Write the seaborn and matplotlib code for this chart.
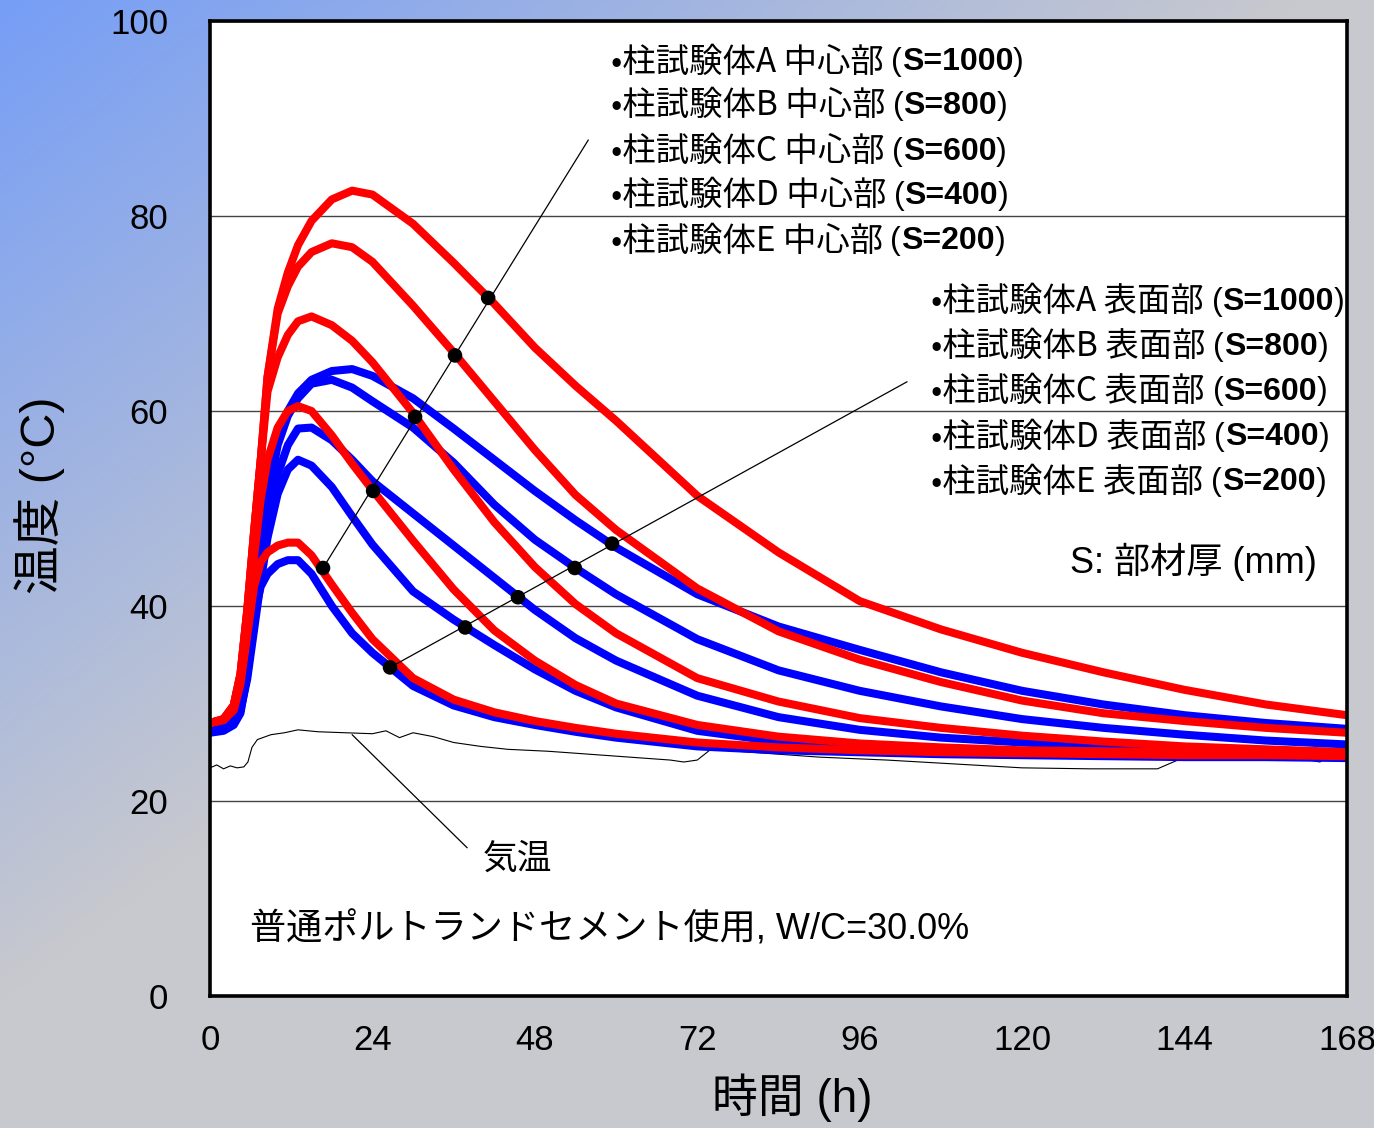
import numpy as np
import pandas as pd
import seaborn as sns
import matplotlib.pyplot as plt
from matplotlib import font_manager
from matplotlib.offsetbox import TextArea, HPacker, AnnotationBbox

# ========= データ =========
hours = [0, 2, 3.5, 4.5, 5.5, 6.5, 7.5, 8.5, 10, 11.5, 13, 15, 18, 21, 24, 30, 36, 42, 48,
         54, 60, 72, 84, 96, 108, 120, 132, 144, 156, 168]

# 中心部 (赤)
center_A = [28.0, 28.4, 29.8, 33.0, 39.5, 47.5, 55.0, 63.5, 70.5, 74.2, 77.0, 79.5, 81.7, 82.6, 82.2,
            79.2, 75.2, 71.0, 66.5, 62.6, 59.0, 51.3, 45.5, 40.5, 37.6, 35.2, 33.2, 31.4, 29.9, 28.8]
center_B = [28.0, 28.4, 29.8, 33.0, 39.5, 47.5, 55.0, 63.5, 70.0, 72.8, 74.8, 76.3, 77.2, 76.8, 75.3,
            70.8, 66.0, 61.0, 56.0, 51.4, 47.8, 41.8, 37.4, 34.5, 32.2, 30.3, 29.0, 28.2, 27.5, 27.0]
center_C = [28.0, 28.4, 29.8, 33.0, 39.5, 47.5, 55.0, 62.0, 65.5, 67.8, 69.2, 69.7, 68.8, 67.2, 65.0,
            59.8, 54.0, 48.6, 44.0, 40.2, 37.2, 32.6, 30.2, 28.5, 27.5, 26.7, 26.1, 25.6, 25.3, 25.0]
center_D = [28.0, 28.3, 29.5, 32.5, 38.0, 45.0, 51.0, 55.0, 58.3, 60.0, 60.5, 60.0, 57.5, 54.6, 51.9,
            46.7, 41.7, 37.5, 34.4, 31.9, 30.0, 27.8, 26.6, 25.9, 25.5, 25.2, 25.1, 25.0, 24.9, 24.8]
center_E = [28.0, 28.3, 29.3, 32.0, 37.0, 42.0, 44.5, 45.5, 46.2, 46.5, 46.5, 45.2, 42.2, 39.3, 36.6,
            32.6, 30.4, 29.1, 28.2, 27.5, 26.9, 26.0, 25.5, 25.2, 25.0, 24.9, 24.8, 24.7, 24.7, 24.6]

# 表面部 (青)
surface_A = [27.3, 27.5, 28.2, 30.0, 34.0, 40.0, 46.0, 51.0, 57.0, 60.0, 61.8, 63.2, 64.1, 64.3, 63.6,
             61.3, 58.2, 55.0, 51.8, 48.8, 46.0, 41.2, 37.9, 35.5, 33.2, 31.3, 29.9, 28.8, 28.0, 27.4]
surface_B = [27.3, 27.5, 28.2, 30.0, 34.0, 40.0, 46.0, 51.0, 56.5, 59.5, 61.3, 62.8, 63.2, 62.4, 61.0,
             58.3, 54.7, 50.4, 46.8, 43.9, 41.2, 36.6, 33.4, 31.3, 29.7, 28.4, 27.5, 26.8, 26.2, 25.8]
surface_C = [27.3, 27.5, 28.0, 29.5, 33.0, 38.5, 44.0, 48.5, 53.5, 56.5, 58.2, 58.3, 57.0, 55.0, 52.8,
             49.5, 46.2, 42.9, 39.6, 36.7, 34.4, 30.8, 28.6, 27.3, 26.5, 26.0, 25.6, 25.4, 25.2, 25.0]
surface_D = [27.3, 27.5, 28.0, 29.3, 32.5, 37.5, 42.5, 47.0, 51.5, 54.0, 55.0, 54.4, 52.2, 49.2, 46.3,
             41.5, 38.6, 36.0, 33.5, 31.3, 29.6, 27.2, 26.1, 25.5, 25.2, 25.0, 24.9, 24.8, 24.7, 24.6]
surface_E = [27.0, 27.2, 27.8, 29.0, 33.0, 39.0, 42.0, 43.3, 44.3, 44.7, 44.7, 43.3, 40.0, 37.2, 35.2,
             31.8, 29.8, 28.6, 27.8, 27.1, 26.5, 25.6, 25.2, 25.0, 24.8, 24.7, 24.6, 24.5, 24.5, 24.4]

# 気温
air_hours = [0, 1, 2, 3, 4, 5, 5.6, 6.2, 7, 9, 11, 13, 16, 20, 24, 26, 28, 30, 33, 36, 40, 44,
             50, 56, 62, 68, 70, 72, 74, 80, 90, 100, 110, 120, 130, 140, 143, 145, 150, 155,
             160, 164, 166, 168]
air_temp = [23.4, 23.7, 23.3, 23.6, 23.4, 23.5, 24.0, 25.5, 26.3, 26.8, 27.0, 27.3, 27.1, 27.0,
            26.9, 27.2, 26.5, 27.0, 26.6, 26.0, 25.6, 25.3, 25.1, 24.8, 24.5, 24.2, 24.0, 24.2,
            25.3, 25.0, 24.5, 24.2, 23.8, 23.4, 23.3, 23.3, 24.2, 25.6, 25.4, 25.0, 24.5, 24.0,
            25.0, 25.2]

# 指示線上の点
center_dot_t = [16.7, 24.1, 30.3, 36.2, 41.1]
center_dot_T = [43.9, 51.8, 59.4, 65.7, 71.6]
surface_dot_t = [26.6, 37.7, 45.5, 53.9, 59.4]
surface_dot_T = [33.7, 37.8, 40.9, 43.9, 46.4]
center_leader_end = (55.9, 87.8)
surface_leader_end = (103.0, 63.0)

specimens = ["A", "B", "C", "D", "E"]
thickness = [1000, 800, 600, 400, 200]
center_series = [center_A, center_B, center_C, center_D, center_E]
surface_series = [surface_A, surface_B, surface_C, surface_D, surface_E]
# ==========================

names = [f.name for f in font_manager.fontManager.ttflist]
narrow = "Liberation Sans Narrow" if "Liberation Sans Narrow" in names else "Liberation Sans"
jp = "Noto Sans CJK JP"

sns.set_style("white")
plt.rcParams["font.family"] = [jp, "DejaVu Sans"]
plt.rcParams["text.color"] = "black"
plt.rcParams["xtick.color"] = "black"
plt.rcParams["ytick.color"] = "black"

rows = []
for sp, vals in zip(specimens, surface_series):
    for t, v in zip(hours, vals):
        rows.append({"time": t, "temp": v, "series": f"表面部{sp}"})
for sp, vals in zip(specimens, center_series):
    for t, v in zip(hours, vals):
        rows.append({"time": t, "temp": v, "series": f"中心部{sp}"})
df = pd.DataFrame(rows)
palette = {f"表面部{sp}": "#0000ff" for sp in specimens}
palette.update({f"中心部{sp}": "#ff0000" for sp in specimens})

fig = plt.figure(figsize=(13.74, 11.28), dpi=100)

# 背景グラデーション
bg = fig.add_axes([0, 0, 1, 1], zorder=-5)
h, w = 282, 344
yy, xx = np.mgrid[0:h, 0:w]
wgt = np.clip(1 - yy / (1000 / 4) - xx / (1300 / 4), 0, 1)[..., None]
blue = np.array([118, 158, 246]) / 255
gray = np.array([200, 201, 206]) / 255
bg.imshow(wgt * blue + (1 - wgt) * gray, aspect="auto", extent=[0, 1, 0, 1])
bg.axis("off")

ax = fig.add_axes([210 / 1374, 132 / 1128, 1137 / 1374, 975 / 1128])
ax.set_facecolor("white")
ax.set_axisbelow(True)

sns.lineplot(x=air_hours, y=air_temp, color="black", lw=0.8, ax=ax)
sns.lineplot(data=df, x="time", y="temp", hue="series", palette=palette,
             hue_order=list(palette.keys()), linewidth=5.8, legend=False, ax=ax)

# 指示線と点
ax.plot([center_dot_t[0], center_leader_end[0]], [center_dot_T[0], center_leader_end[1]],
        color="black", lw=0.9, zorder=5)
ax.plot([surface_dot_t[0], surface_leader_end[0]], [surface_dot_T[0], surface_leader_end[1]],
        color="black", lw=0.9, zorder=5)
sns.scatterplot(x=center_dot_t, y=center_dot_T, color="black", s=110, edgecolor="none",
                zorder=6, ax=ax)
sns.scatterplot(x=surface_dot_t, y=surface_dot_T, color="black", s=110, edgecolor="none",
                zorder=6, ax=ax)
ax.plot([21.0, 38.0], [26.8, 15.2], color="black", lw=0.9)
ax.text(45.4, 14.0, "気温", fontsize=25, ha="center", va="center", family=[jp])

ax.set_xlim(0, 168)
ax.set_ylim(0, 100)
ax.set_xticks(range(0, 169, 24))
ax.set_xticks(range(12, 168, 24), minor=True)
ax.set_yticks(range(0, 101, 20))
ax.tick_params(axis="x", which="major", direction="in", length=11, width=1.2, pad=20,
               labelsize=25, top=False)
ax.tick_params(axis="x", which="minor", direction="in", length=7, width=1.0)
ax.tick_params(axis="y", length=0, pad=30, labelsize=25)
for lab in ax.get_xticklabels() + ax.get_yticklabels():
    lab.set_fontfamily(narrow)
ax.yaxis.grid(True, color="#444444", lw=1.0)
ax.xaxis.grid(False)
for sp in ax.spines.values():
    sp.set_color("black")
    sp.set_linewidth(2.6)
ax.set_xlabel("")
ax.set_ylabel("")

fig.text(40 / 1374, 1 - 495 / 1128, "温度 (°C)", rotation=90, fontsize=35,
         ha="center", va="center", family=[narrow, jp])
fig.text(792 / 1374, 1 - 1098 / 1128, "時間 (h)", fontsize=33,
         ha="center", va="center", family=[narrow, jp])


def label_row(x, y, prefix, s):
    parts = [TextArea(prefix, textprops=dict(fontsize=24, family=[jp])),
             TextArea("(", textprops=dict(fontsize=23, family=[narrow])),
             TextArea(f"S={s}", textprops=dict(fontsize=23, family=[narrow], weight="bold")),
             TextArea(")", textprops=dict(fontsize=23, family=[narrow]))]
    box = HPacker(children=parts, align="center", pad=0, sep=0)
    ab = AnnotationBbox(box, (x, y), xycoords="data", box_alignment=(0, 0.5),
                        frameon=False, pad=0)
    ax.add_artist(ab)


center_y = [95.8, 91.3, 86.6, 82.1, 77.4]
surface_y = [71.2, 66.6, 62.0, 57.3, 52.7]
for sp, s, yv in zip(specimens, thickness, center_y):
    label_row(59.2, yv, f"•柱試験体{sp} 中心部 ", s)
for sp, s, yv in zip(specimens, thickness, surface_y):
    label_row(106.6, yv, f"•柱試験体{sp} 表面部 ", s)

ax.text(163.5, 44.5, "S: 部材厚 (mm)", fontsize=26, ha="right", va="center",
        family=[narrow, jp])
ax.text(5.9, 6.8, "普通ポルトランドセメント使用, W/C=30.0%", fontsize=26, ha="left",
        va="center", family=[narrow, jp])

fig.savefig("out.png", dpi=100)
